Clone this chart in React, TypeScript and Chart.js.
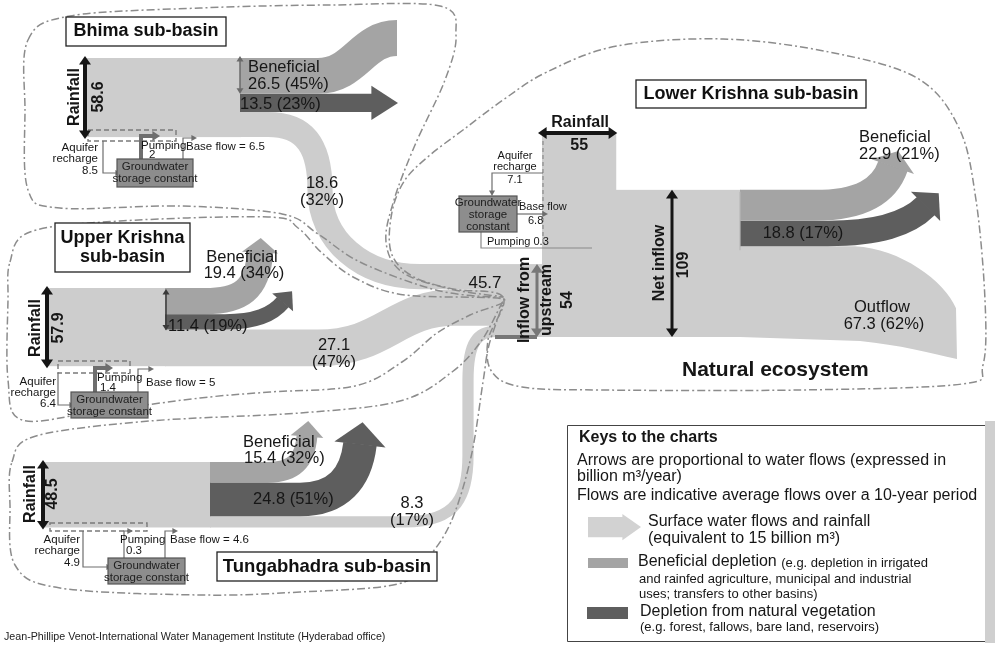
import React, { useEffect, useRef } from 'react';
import { Chart, registerables } from 'chart.js';

Chart.register(...registerables);

// ---------------- Water accounts (billion m³ / year) ----------------
const subBasins = ['Bhima', 'Upper Krishna', 'Tungabhadra', 'Lower Krishna'];
const rainfall = [58.6, 57.9, 48.5, 55];
const beneficialDepletion = [26.5, 19.4, 15.4, 22.9];
const beneficialPct = [45, 34, 32, 21];
const naturalDepletion = [13.5, 11.4, 24.8, 18.8];
const naturalPct = [23, 19, 51, 17];
const outflow = [18.6, 27.1, 8.3, 67.3];
const outflowPct = [32, 47, 17, 62];
const aquiferRecharge = [8.5, 6.4, 4.9, 7.1];
const pumping = [2, 1.4, 0.3, 0.3];
const baseFlow = [6.5, 5, 4.6, 6.8];
const inflowFromUpstream = [54];
const netInflow = [109];
const upstreamJunction = [45.7];
const legendUnit = [15];
const titleLabels = ['Bhima sub-basin', 'Upper Krishna\nsub-basin', 'Tungabhadra sub-basin', 'Lower Krishna sub-basin'];

// ---------------- layout / style ----------------
const K = 1.35; // layout units per billion m³ (arrow thickness)
const FONT = '"Liberation Sans", Arial, Helvetica, sans-serif';
const C_LIGHT = '#cdcdcd';
const C_BEN = '#a4a4a4';
const C_NAT = '#5e5e5e';
const C_TEXT = '#161616';
const C_DASH = '#8c8c8c';

const BASIN_LAYOUT = [
  { x0: 87, xs: 240, top: 58, arrowX: 85, rainTxtX: 75, rainValX: 99, rainMidY: 97 },
  { x0: 47, xs: 165, top: 288, arrowX: 47, rainTxtX: 36, rainValX: 59, rainMidY: 328 },
  { x0: 44, xs: 210, top: 462, arrowX: 43, rainTxtX: 31, rainValX: 53, rainMidY: 494 },
];
const JUNCTION = { xEnd: 500, bottom: 337 };
const LK = { xL: 542, xR: 740, rainTop: 133, inflowX0: 490, inflowArrowX: 537, netArrowX: 672 };

const GW_LAYOUT = [
  { dash: [88, 130, 176, 141], aqX: 103, aqY0: 141, boxY: 173, box: [117, 159, 193, 187], pumpX: 141, pumpTopY: 136, pumpEndX: 158, baseX: 183, baseTopY: 138, baseEndX: 197, aqLblX: 98, aqLblY: [148, 159, 171], pumpLbl: [141, 146], pumpVal: [149, 155], baseLbl: [186, 147], thick: true },
  { dash: [58, 361, 130, 373], aqX: 58, aqY0: 373, boxY: 405, box: [71, 392, 148, 418], pumpX: 95, pumpTopY: 368, pumpEndX: 111, baseX: 138, baseTopY: 369, baseEndX: 154, aqLblX: 56, aqLblY: [382, 393, 404], pumpLbl: [97, 378], pumpVal: [100, 388], baseLbl: [146, 383], thick: true },
  { dash: [50, 523, 147, 531], aqX: 83, aqY0: 531, boxY: 567, box: [108, 558, 185, 584], pumpX: 124, pumpTopY: 531, pumpEndX: 133, baseX: 165, baseTopY: 531, baseEndX: 178, aqLblX: 80, aqLblY: [540, 551, 563], pumpLbl: [120, 540], pumpVal: [126, 551], baseLbl: [170, 540], thick: false },
];

const OUTLINES: number[][][] = [
  // Bhima
  [[28, 40], [70, 16], [200, 8], [330, 5], [440, 6], [456, 35], [445, 80], [415, 145], [394, 200], [386, 242], [402, 272], [450, 289], [503, 297], [440, 291], [362, 263], [318, 234], [282, 214], [180, 206], [60, 208], [28, 190], [25, 110]],
  // Upper Krishna
  [[10, 262], [30, 232], [120, 221], [268, 217], [298, 228], [322, 253], [355, 278], [405, 295], [503, 299], [470, 315], [437, 333], [402, 362], [355, 386], [270, 392], [200, 398], [100, 411], [22, 420], [8, 380], [8, 300]],
  // Tungabhadra
  [[12, 462], [36, 436], [150, 421], [300, 413], [400, 401], [452, 372], [482, 340], [503, 302], [489, 345], [483, 382], [471, 457], [451, 522], [426, 560], [398, 584], [300, 592], [200, 595], [60, 588], [15, 565], [10, 505]],
  // Lower Krishna
  [[503, 297], [453, 289], [412, 276], [391, 252], [392, 212], [405, 180], [430, 155], [463, 130], [503, 100], [547, 72], [617, 46], [723, 39], [829, 52], [917, 78], [959, 128], [976, 200], [985, 300], [983, 365], [962, 384], [800, 390], [600, 390], [522, 387], [492, 372], [488, 340]],
];

type Cmd = (string | number)[];

const diagram = {
  id: 'krishnaDiagram',
  beforeDraw(chart: any) {
    const { ctx, width, height } = chart;
    ctx.save();
    ctx.fillStyle = '#ffffff';
    ctx.fillRect(0, 0, width, height);
    ctx.restore();
  },
  afterDraw(chart: any) {
    const ctx: CanvasRenderingContext2D = chart.ctx;
    const xs = chart.scales.x;
    const ys = chart.scales.y;
    const X = (v: number) => xs.getPixelForValue(v);
    const Y = (v: number) => ys.getPixelForValue(v);
    const W = (q: number) => Math.abs(Y(q * K) - Y(0)); // flow thickness in px
    const D = (q: number) => q * K; // flow thickness in layout units

    const rect = (x1: number, y1: number, x2: number, y2: number, color: string) => {
      ctx.fillStyle = color;
      ctx.fillRect(X(x1), Y(y1), X(x2) - X(x1), Y(y2) - Y(y1));
    };

    const tri = (ex: number, ey: number, ux: number, uy: number, hw: number, len: number, color: string) => {
      const nx = -uy, ny = ux;
      ctx.beginPath();
      ctx.moveTo(ex + nx * hw - ux * 0.6, ey + ny * hw - uy * 0.6);
      ctx.lineTo(ex + ux * len, ey + uy * len);
      ctx.lineTo(ex - nx * hw - ux * 0.6, ey - ny * hw - uy * 0.6);
      ctx.closePath();
      ctx.fillStyle = color;
      ctx.fill();
    };

    const band = (cmds: Cmd[], q: number, color: string, head?: { len: number; ext: number }) => {
      ctx.save();
      ctx.beginPath();
      let px = 0, py = 0, ppx = 0, ppy = 0;
      for (const c of cmds) {
        const n = c.slice(1) as number[];
        if (c[0] === 'M') { ctx.moveTo(X(n[0]), Y(n[1])); ppx = px; ppy = py; px = n[0]; py = n[1]; }
        else if (c[0] === 'L') { ctx.lineTo(X(n[0]), Y(n[1])); ppx = px; ppy = py; px = n[0]; py = n[1]; }
        else { ctx.bezierCurveTo(X(n[0]), Y(n[1]), X(n[2]), Y(n[3]), X(n[4]), Y(n[5])); ppx = n[2]; ppy = n[3]; px = n[4]; py = n[5]; }
      }
      ctx.lineWidth = W(q);
      ctx.strokeStyle = color;
      ctx.lineCap = 'butt';
      ctx.lineJoin = 'round';
      ctx.stroke();
      if (head) {
        const dx = X(px) - X(ppx), dy = Y(py) - Y(ppy);
        const L = Math.hypot(dx, dy) || 1;
        tri(X(px), Y(py), dx / L, dy / L, W(q) / 2 + head.ext, head.len, color);
      }
      ctx.restore();
    };

    const text = (s: string, x: number, y: number, size: number, opts: { align?: CanvasTextAlign; bold?: boolean; rot?: number; color?: string } = {}) => {
      ctx.save();
      ctx.font = `${opts.bold ? 'bold ' : ''}${size}px ${FONT}`;
      ctx.fillStyle = opts.color || C_TEXT;
      ctx.textAlign = opts.align || 'left';
      ctx.textBaseline = 'middle';
      ctx.translate(X(x), Y(y));
      if (opts.rot) ctx.rotate(opts.rot);
      ctx.fillText(s, 0, 0);
      ctx.restore();
    };

    const polyArrow = (pts: number[][], color: string, lw: number, hl: number, hw: number) => {
      ctx.save();
      ctx.strokeStyle = color;
      ctx.lineWidth = lw;
      ctx.beginPath();
      pts.forEach((p, i) => (i ? ctx.lineTo(X(p[0]), Y(p[1])) : ctx.moveTo(X(p[0]), Y(p[1]))));
      ctx.stroke();
      if (hl > 0) {
        const a = pts[pts.length - 2], b = pts[pts.length - 1];
        const dx = X(b[0]) - X(a[0]), dy = Y(b[1]) - Y(a[1]);
        const L = Math.hypot(dx, dy) || 1;
        tri(X(b[0]), Y(b[1]), dx / L, dy / L, hw, hl, color);
      }
      ctx.restore();
    };

    const dblArrow = (x1: number, y1: number, x2: number, y2: number, color: string, lw: number, hl = 8, hw = 6) => {
      const dx = X(x2) - X(x1), dy = Y(y2) - Y(y1);
      const L = Math.hypot(dx, dy);
      const ux = dx / L, uy = dy / L;
      ctx.save();
      ctx.strokeStyle = color;
      ctx.lineWidth = lw;
      ctx.beginPath();
      ctx.moveTo(X(x1) + ux * hl, Y(y1) + uy * hl);
      ctx.lineTo(X(x2) - ux * hl, Y(y2) - uy * hl);
      ctx.stroke();
      tri(X(x2) - ux * hl, Y(y2) - uy * hl, ux, uy, hw, hl, color);
      tri(X(x1) + ux * hl, Y(y1) + uy * hl, -ux, -uy, hw, hl, color);
      ctx.restore();
    };

    const smoothClosed = (pts: number[][]) => {
      const n = pts.length;
      ctx.beginPath();
      ctx.moveTo(X(pts[0][0]), Y(pts[0][1]));
      for (let i = 0; i < n; i++) {
        const p0 = pts[(i - 1 + n) % n], p1 = pts[i], p2 = pts[(i + 1) % n], p3 = pts[(i + 2) % n];
        const c1 = [p1[0] + (p2[0] - p0[0]) / 6, p1[1] + (p2[1] - p0[1]) / 6];
        const c2 = [p2[0] - (p3[0] - p1[0]) / 6, p2[1] - (p3[1] - p1[1]) / 6];
        ctx.bezierCurveTo(X(c1[0]), Y(c1[1]), X(c2[0]), Y(c2[1]), X(p2[0]), Y(p2[1]));
      }
      ctx.closePath();
    };

    const titleBox = (label: string, cx: number, cy: number, w: number, h: number, size: number) => {
      ctx.save();
      ctx.fillStyle = '#ffffff';
      ctx.strokeStyle = '#222';
      ctx.lineWidth = 1.3;
      ctx.fillRect(X(cx - w / 2), Y(cy - h / 2), w, h);
      ctx.strokeRect(X(cx - w / 2), Y(cy - h / 2), w, h);
      ctx.restore();
      const lines = label.split('\n');
      lines.forEach((ln, i) => text(ln, cx, cy + (i - (lines.length - 1) / 2) * (size + 1.5), size, { align: 'center', bold: true, color: '#111' }));
    };

    // ---------------- stacked positions from data ----------------
    const inflowTop = JUNCTION.bottom - D(inflowFromUpstream[0]);
    const junctionCenters: number[] = [];
    let acc = inflowTop;
    for (let i = 0; i < 3; i++) {
      junctionCenters.push(acc + D(outflow[i]) / 2);
      acc += D(outflow[i]);
    }
    const rows = BASIN_LAYOUT.map((L, i) => {
      const yBen = L.top + D(beneficialDepletion[i]) / 2;
      const yNat = L.top + D(beneficialDepletion[i]) + D(naturalDepletion[i]) / 2;
      const yOut = L.top + D(beneficialDepletion[i]) + D(naturalDepletion[i]) + D(outflow[i]) / 2;
      const depBot = L.top + D(beneficialDepletion[i]) + D(naturalDepletion[i]);
      const bot = L.top + D(rainfall[i]);
      return { yBen, yNat, yOut, depBot, bot };
    });

    // ---------------- outflows toward the Lower Krishna ----------------
    {
      const r = rows[0], yj = junctionCenters[0];
      band([['M', 240, r.yOut], ['L', 268, r.yOut], ['C', 308, r.yOut, 320, 150, 320, 190], ['C', 320, 240, 362, yj, 420, yj], ['L', JUNCTION.xEnd, yj]], outflow[0], C_LIGHT);
    }
    {
      const r = rows[1], yj = junctionCenters[1];
      band([['M', 165, r.yOut], ['L', 318, r.yOut], ['C', 385, r.yOut, 395, yj, 455, yj], ['L', JUNCTION.xEnd, yj]], outflow[1], C_LIGHT);
    }
    {
      const r = rows[2], yj = junctionCenters[2];
      band([['M', 210, r.yOut], ['L', 405, r.yOut], ['C', 458, r.yOut, 468, 495, 468, 455], ['L', 468, 380], ['C', 468, yj + 10, 478, yj, 496, yj], ['L', JUNCTION.xEnd, yj]], outflow[2], C_LIGHT);
    }

    // ---------------- Lower Krishna main flows ----------------
    const netTop = JUNCTION.bottom - D(netInflow[0]);
    rect(LK.xL, LK.rainTop, LK.xL + D(rainfall[3]), netTop + 1, C_LIGHT);
    rect(LK.xL, netTop, LK.xR + 1, JUNCTION.bottom, C_LIGHT);
    rect(LK.inflowX0, inflowTop, LK.xL + 2, JUNCTION.bottom, C_LIGHT);
    {
      const yB = netTop + D(beneficialDepletion[3]) / 2;
      const yN = netTop + D(beneficialDepletion[3]) + D(naturalDepletion[3]) / 2;
      const oTop = netTop + D(beneficialDepletion[3]) + D(naturalDepletion[3]);
      const oBot = oTop + D(outflow[3]);
      ctx.beginPath();
      ctx.moveTo(X(LK.xR), Y(oTop));
      ctx.lineTo(X(855), Y(oTop));
      ctx.bezierCurveTo(X(900), Y(oTop + 2), X(945), Y(oTop + 35), X(956), Y(oTop + 62));
      ctx.lineTo(X(957), Y(oBot + 22));
      ctx.bezierCurveTo(X(930), Y(oBot + 16), X(900), Y(oBot + 8), X(860), Y(oBot + 4));
      ctx.lineTo(X(LK.xR), Y(oBot));
      ctx.closePath();
      ctx.fillStyle = C_LIGHT;
      ctx.fill();
      band([['M', LK.xR, yN], ['L', 828, yN], ['C', 878, yN, 908, 224, 926, 206]], naturalDepletion[3], C_NAT, { len: 18, ext: 8 });
      band([['M', LK.xR, yB], ['L', 815, yB], ['C', 860, yB, 884, 192, 893, 166]], beneficialDepletion[3], C_BEN, { len: 16, ext: 7 });
      // split marker
      polyArrow([[LK.xR, netTop + 2], [LK.xR, oTop + 4]], '#b8b8b8', 1.2, 0, 0);
    }

    // ---------------- upstream sub-basins ----------------
    BASIN_LAYOUT.forEach((L, i) => {
      rect(L.x0, L.top, L.xs + 1, rows[i].bot, C_LIGHT);
    });
    {
      const r = rows[0];
      band([['M', 240, r.yNat], ['L', 372, r.yNat]], naturalDepletion[0], C_NAT, { len: 26, ext: 8 });
      band([['M', 240, r.yBen], ['L', 318, r.yBen], ['C', 355, r.yBen, 362, 38, 397, 38]], beneficialDepletion[0], C_BEN);
      dblArrow(240, BASIN_LAYOUT[0].top - 2, 240, r.yBen + D(beneficialDepletion[0]) / 2, '#6a6a6a', 1.5, 5, 3.5);
    }
    {
      const r = rows[1];
      band([['M', 165, r.yBen], ['L', 205, r.yBen], ['C', 240, r.yBen, 258, 290, 260, 252]], beneficialDepletion[1], C_BEN, { len: 14, ext: 5 });
      band([['M', 165, r.yNat], ['L', 225, r.yNat], ['C', 255, r.yNat, 272, 315, 283, 302]], naturalDepletion[1], C_NAT, { len: 14, ext: 6 });
      dblArrow(166, BASIN_LAYOUT[1].top + 1, 166, r.depBot + 1, '#3a3a3a', 1.5, 5, 3.5);
    }
    {
      const r = rows[2];
      band([['M', 210, r.yBen], ['L', 268, r.yBen], ['C', 295, r.yBen, 305, 460, 307, 436]], beneficialDepletion[2], C_BEN, { len: 15, ext: 6 });
      band([['M', 210, r.yNat], ['L', 300, r.yNat], ['C', 338, r.yNat, 356, 478, 360, 444]], naturalDepletion[2], C_NAT, { len: 22, ext: 9 });
    }

    // ---------------- dashed sub-basin outlines ----------------
    ctx.save();
    ctx.strokeStyle = C_DASH;
    ctx.lineWidth = 1.5;
    ctx.setLineDash([8, 3, 2, 3]);
    OUTLINES.forEach((pts) => { smoothClosed(pts); ctx.stroke(); });
    ctx.restore();

    // ---------------- groundwater sketches ----------------
    GW_LAYOUT.forEach((G, i) => {
      ctx.save();
      ctx.strokeStyle = '#7a7a7a';
      ctx.lineWidth = 1.4;
      ctx.setLineDash([5, 3]);
      ctx.strokeRect(X(G.dash[0]), Y(G.dash[1]), X(G.dash[2]) - X(G.dash[0]), Y(G.dash[3]) - Y(G.dash[1]));
      ctx.restore();
      polyArrow([[G.aqX, G.aqY0], [G.aqX, G.boxY], [G.box[0] - 1, G.boxY]], '#6e6e6e', 1.2, 5, 3);
      polyArrow([[G.pumpX, G.box[1]], [G.pumpX, G.pumpTopY], [G.pumpEndX - 5, G.pumpTopY]], '#6e6e6e', G.thick ? 4 : 1.2, G.thick ? 7 : 5, G.thick ? 5 : 3);
      polyArrow([[G.baseX, G.box[1]], [G.baseX, G.baseTopY], [G.baseEndX - 5, G.baseTopY]], '#6e6e6e', 1.2, 5, 3);
      ctx.save();
      ctx.fillStyle = '#8d8d8d';
      ctx.strokeStyle = '#555';
      ctx.lineWidth = 1.2;
      ctx.fillRect(X(G.box[0]), Y(G.box[1]), X(G.box[2]) - X(G.box[0]), Y(G.box[3]) - Y(G.box[1]));
      ctx.strokeRect(X(G.box[0]), Y(G.box[1]), X(G.box[2]) - X(G.box[0]), Y(G.box[3]) - Y(G.box[1]));
      ctx.restore();
      const cx = (G.box[0] + G.box[2]) / 2;
      text('Groundwater', cx, G.box[1] + 8, 11.5, { align: 'center', color: '#202020' });
      text('storage constant', cx, G.box[1] + 20, 11.5, { align: 'center', color: '#202020' });
      text('Aquifer', G.aqLblX, G.aqLblY[0], 11.5, { align: 'right' });
      text('recharge', G.aqLblX, G.aqLblY[1], 11.5, { align: 'right' });
      text(String(aquiferRecharge[i]), G.aqLblX, G.aqLblY[2], 11.5, { align: 'right' });
      text('Pumping', G.pumpLbl[0], G.pumpLbl[1], 11.5);
      text(String(pumping[i]), G.pumpVal[0], G.pumpVal[1], 11.5);
      text(`Base flow = ${baseFlow[i]}`, G.baseLbl[0], G.baseLbl[1], 11.5);
    });
    // Lower Krishna groundwater
    {
      ctx.save();
      ctx.strokeStyle = '#8a8a8a';
      ctx.lineWidth = 1.2;
      ctx.setLineDash([4, 3]);
      ctx.beginPath();
      ctx.moveTo(X(LK.xL + 1), Y(LK.rainTop + 8));
      ctx.lineTo(X(LK.xL + 1), Y(245));
      ctx.stroke();
      ctx.restore();
      polyArrow([[LK.xL + 1, 173], [492, 173], [492, 191]], '#6e6e6e', 1.2, 5, 3);
      polyArrow([[517, 214], [543, 214]], '#6e6e6e', 1.2, 5, 3);
      polyArrow([[481, 232], [481, 248], [592, 248]], '#8a8a8a', 1.2, 0, 0);
      ctx.save();
      ctx.fillStyle = '#8d8d8d';
      ctx.strokeStyle = '#555';
      ctx.lineWidth = 1.2;
      ctx.fillRect(X(459), Y(196), X(517) - X(459), Y(232) - Y(196));
      ctx.strokeRect(X(459), Y(196), X(517) - X(459), Y(232) - Y(196));
      ctx.restore();
      text('Groundwater', 488, 203, 11.5, { align: 'center', color: '#202020' });
      text('storage', 488, 215, 11.5, { align: 'center', color: '#202020' });
      text('constant', 488, 227, 11.5, { align: 'center', color: '#202020' });
      text('Aquifer', 515, 156, 11, { align: 'center' });
      text('recharge', 515, 167, 11, { align: 'center' });
      text(String(aquiferRecharge[3]), 515, 180, 11, { align: 'center' });
      text('Base flow', 519, 207, 11);
      text(String(baseFlow[3]), 528, 221, 11);
      text(`Pumping ${pumping[3]}`, 487, 242, 11);
    }

    // ---------------- rainfall indicators ----------------
    BASIN_LAYOUT.forEach((L, i) => {
      dblArrow(L.arrowX, L.top - 2, L.arrowX, rows[i].bot + 2, '#151515', 4);
      text('Rainfall', L.rainTxtX, L.rainMidY, 16, { align: 'center', bold: true, rot: -Math.PI / 2 });
      text(String(rainfall[i]), L.rainValX, L.rainMidY, 16, { align: 'center', bold: true, rot: -Math.PI / 2 });
    });
    dblArrow(LK.xL - 4, LK.rainTop, LK.xL + D(rainfall[3]) + 1, LK.rainTop, '#151515', 4);
    text('Rainfall', LK.xL + D(rainfall[3]) / 2 + 1, 123, 16, { align: 'center', bold: true });
    text(String(rainfall[3]), LK.xL + D(rainfall[3]) / 2, 146, 16, { align: 'center', bold: true });

    // inflow from upstream / net inflow
    dblArrow(LK.inflowArrowX, inflowTop, LK.inflowArrowX, JUNCTION.bottom, '#777777', 3);
    polyArrow([[495, JUNCTION.bottom], [LK.inflowArrowX, JUNCTION.bottom]], '#777777', 4, 0, 0);
    text('Inflow from', 525, 300, 16, { align: 'center', bold: true, rot: -Math.PI / 2 });
    text('upstream', 547, 300, 16, { align: 'center', bold: true, rot: -Math.PI / 2 });
    text(String(inflowFromUpstream[0]), 568, 300, 16, { align: 'center', bold: true, rot: -Math.PI / 2 });
    dblArrow(LK.netArrowX, netTop, LK.netArrowX, JUNCTION.bottom, '#151515', 3);
    text('Net inflow', 660, 263, 16, { align: 'center', bold: true, rot: -Math.PI / 2 });
    text(String(netInflow[0]), 684, 265, 16, { align: 'center', bold: true, rot: -Math.PI / 2 });
    text(String(upstreamJunction[0]), 485, 283, 17, { align: 'center' });

    // ---------------- flow labels ----------------
    const pct = (v: number, p: number) => `${v} (${p}%)`;
    text('Beneficial', 248, 67, 16.5);
    text(pct(beneficialDepletion[0], beneficialPct[0]), 248, 84, 16.5);
    text(pct(naturalDepletion[0], naturalPct[0]), 240, 104, 16.5);
    text(String(outflow[0]), 322, 183, 16.5, { align: 'center' });
    text(`(${outflowPct[0]}%)`, 322, 200, 16.5, { align: 'center' });

    text('Beneficial', 242, 257, 16.5, { align: 'center' });
    text(pct(beneficialDepletion[1], beneficialPct[1]), 244, 273, 16.5, { align: 'center' });
    text(pct(naturalDepletion[1], naturalPct[1]), 168, 326, 16.5);
    text(String(outflow[1]), 334, 345, 16.5, { align: 'center' });
    text(`(${outflowPct[1]}%)`, 334, 362, 16.5, { align: 'center' });

    text('Beneficial', 243, 442, 16.5);
    text(pct(beneficialDepletion[2], beneficialPct[2]), 244, 458, 16.5);
    text(pct(naturalDepletion[2], naturalPct[2]), 253, 499, 16.5);
    text(String(outflow[2]), 412, 503, 16.5, { align: 'center' });
    text(`(${outflowPct[2]}%)`, 412, 520, 16.5, { align: 'center' });

    text('Beneficial', 859, 137, 16.5);
    text(pct(beneficialDepletion[3], beneficialPct[3]), 859, 154, 16.5);
    text(pct(naturalDepletion[3], naturalPct[3]), 803, 233, 16.5, { align: 'center' });
    text('Outflow', 882, 307, 16.5, { align: 'center' });
    text(pct(outflow[3], outflowPct[3]), 884, 324, 16.5, { align: 'center' });
    text('Natural ecosystem', 682, 370, 21, { bold: true });

    // ---------------- titles ----------------
    titleBox(titleLabels[0], 146, 31.5, 160, 29, 18);
    titleBox(titleLabels[1], 122.5, 247.5, 135, 49, 18);
    titleBox(titleLabels[2], 327, 566.5, 220, 29, 18.5);
    titleBox(titleLabels[3], 751, 94, 230, 28, 18);

    // ---------------- key ----------------
    ctx.save();
    ctx.fillStyle = '#cfcfcf';
    ctx.fillRect(X(985), Y(421), X(995) - X(985), Y(643) - Y(421));
    ctx.fillStyle = '#ffffff';
    ctx.fillRect(X(567), Y(425), X(985) - X(567), Y(641) - Y(425));
    ctx.strokeStyle = '#444';
    ctx.lineWidth = 1;
    ctx.beginPath();
    ctx.moveTo(X(985), Y(425) + 0.5);
    ctx.lineTo(X(567) + 0.5, Y(425) + 0.5);
    ctx.lineTo(X(567) + 0.5, Y(641) + 0.5);
    ctx.lineTo(X(985), Y(641) + 0.5);
    ctx.stroke();
    ctx.restore();
    text('Keys to the charts', 579, 438, 16, { bold: true });
    text('Arrows are proportional to water flows (expressed in', 577, 461, 16);
    text('billion m³/year)', 577, 477, 16);
    text('Flows are indicative average flows over a 10-year period', 577, 496, 16);
    // legend swatches
    band([['M', 588, 527], ['L', 623, 527]], legendUnit[0], '#d2d2d2', { len: 18, ext: 3 });
    text('Surface water flows and rainfall', 648, 522, 16);
    text(`(equivalent to ${legendUnit[0]} billion m³)`, 648, 539, 16);
    rect(588, 558, 628, 568, C_BEN);
    text('Beneficial depletion', 638, 562, 16);
    ctx.save();
    ctx.font = `16px ${FONT}`;
    const bw = ctx.measureText('Beneficial depletion ').width;
    ctx.restore();
    text('(e.g. depletion in irrigated', 638 + bw, 563, 13);
    text('and rainfed agriculture, municipal and industrial', 639, 579, 13);
    text('uses; transfers to other basins)', 639, 594, 13);
    rect(587, 607, 628, 619, C_NAT);
    text('Depletion from natural vegetation', 640, 612, 16);
    text('(e.g. forest, fallows, bare land, reservoirs)', 640, 627, 13);

    // footer
    text('Jean-Phillipe Venot-International Water Management Institute (Hyderabad office)', 4, 637, 10.7, { color: '#222' });
  },
};

export default function App() {
  const ref = useRef<HTMLCanvasElement>(null);
  useEffect(() => {
    const canvas = ref.current;
    if (!canvas) return;
    const chart = new Chart(canvas, {
      type: 'scatter',
      data: { datasets: [{ label: subBasins.join(', '), data: [], pointRadius: 0 }] },
      options: {
        responsive: false,
        maintainAspectRatio: false,
        animation: false,
        events: [],
        layout: { padding: 0 },
        plugins: { legend: { display: false }, tooltip: { enabled: false }, title: { display: false } },
        scales: {
          x: { type: 'linear', min: 0, max: 997, display: false },
          y: { type: 'linear', min: 0, max: 649, reverse: true, display: false },
        },
      },
      plugins: [diagram],
    } as any);
    return () => chart.destroy();
  }, []);
  return (
    <div style={{ position: 'absolute', left: 0, top: 0, width: 997, height: 649, background: '#fff' }}>
      <canvas ref={ref} width={997} height={649} style={{ display: 'block', width: 997, height: 649 }} />
    </div>
  );
}
